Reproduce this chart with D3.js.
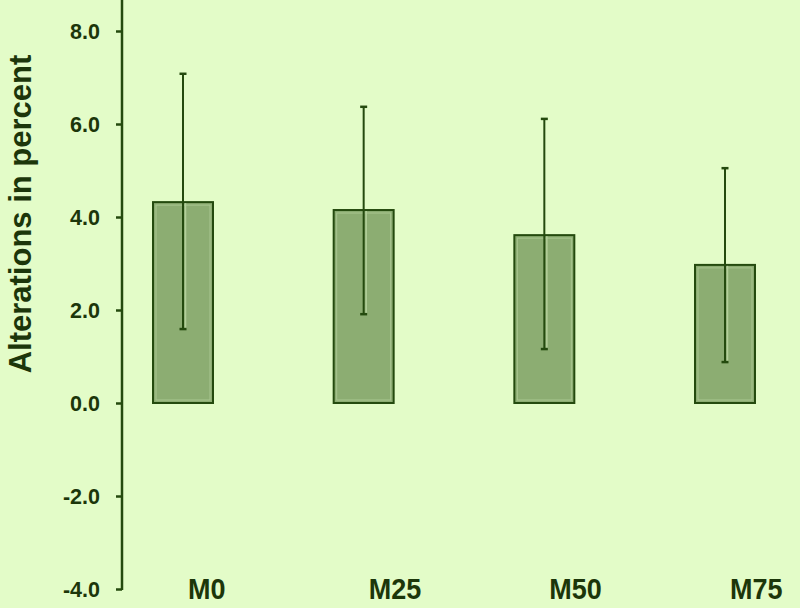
<!DOCTYPE html>
<html><head><meta charset="utf-8">
<script src="https://cdn.jsdelivr.net/npm/d3@7/dist/d3.min.js"></script>
<style>
html,body{margin:0;padding:0;background:#e3fcc8;}
svg{display:block;}
text{font-family:"Liberation Sans",Arial,sans-serif;font-weight:bold;fill:#1c360a;}
</style></head>
<body><svg id="c" width="800" height="608"></svg>
<script>
const categories = ["M0","M25","M50","M75"];
const means = [4.32, 4.15, 3.61, 2.97];
const errTop = [7.08, 6.37, 6.11, 5.05];
const errBottom = [1.59, 1.91, 1.16, 0.88];
const yTicks = [-4, -2, 0, 2, 4, 6, 8];
const yTitle = "Alterations in percent";

const svg = d3.select("#c");
const bg = "#e3fcc8", dark = "#244a0e", fill = "#8cad72";
svg.append("rect").attr("width",800).attr("height",608).attr("fill",bg);

const y = d3.scaleLinear().domain([-4, 8]).range([589, 31]);
const x = d3.scaleBand().domain(categories).range([92.67, 815.33])
  .paddingInner(0.668).paddingOuter(0.334);

// axis
const axisX = 122;
const ax = svg.append("g").attr("transform",`translate(${axisX},0)`)
  .call(d3.axisLeft(y).tickValues(yTicks).tickFormat(d => d.toFixed(1)).tickSize(6).tickPadding(16));
ax.select(".domain").remove();
ax.selectAll(".tick line").attr("stroke",dark).attr("stroke-width",2.5);
ax.selectAll(".tick text").style("font-size","21.5px").attr("fill","#1c360a").attr("dy","0.36em");
svg.append("line").attr("x1",axisX).attr("x2",axisX).attr("y1",0).attr("y2",y(-4)+1)
  .attr("stroke",dark).attr("stroke-width",2.5);

// bars
const g = svg.append("g");
categories.forEach((c,i)=>{
  const x0 = x(c), w = x.bandwidth();
  const yt = y(means[i]), yb = y(0);
  g.append("rect").attr("x",x0).attr("y",yt).attr("width",w).attr("height",yb-yt)
    .attr("fill",fill).attr("stroke",dark).attr("stroke-width",2);
  g.append("rect").attr("x",x0+3).attr("y",yt+3).attr("width",w-6).attr("height",yb-yt-6)
    .attr("fill","none").attr("stroke","#a9c690").attr("stroke-width",1);
  const cx = x0 + w/2;
  g.append("line").attr("x1",cx+2.5).attr("x2",cx+2.5).attr("y1",y(means[i])+1).attr("y2",y(errBottom[i]))
    .attr("stroke","#b3d09a").attr("stroke-width",1.5);
  g.append("line").attr("x1",cx).attr("x2",cx).attr("y1",y(errTop[i])).attr("y2",y(errBottom[i]))
    .attr("stroke",dark).attr("stroke-width",2);
  [errTop[i], errBottom[i]].forEach(v=>{
    g.append("line").attr("x1",cx-3.5).attr("x2",cx+3.5).attr("y1",y(v)).attr("y2",y(v))
      .attr("stroke",dark).attr("stroke-width",2.5);
  });
  svg.append("text").attr("transform",`translate(${cx+5},599) scale(1,1.08)`).attr("text-anchor","start")
    .style("font-size","27px").text(c);
});

svg.append("text").attr("transform",`translate(31,214) rotate(-90)`)
  .attr("text-anchor","middle").style("font-size","31px").text(yTitle);
</script></body></html>
